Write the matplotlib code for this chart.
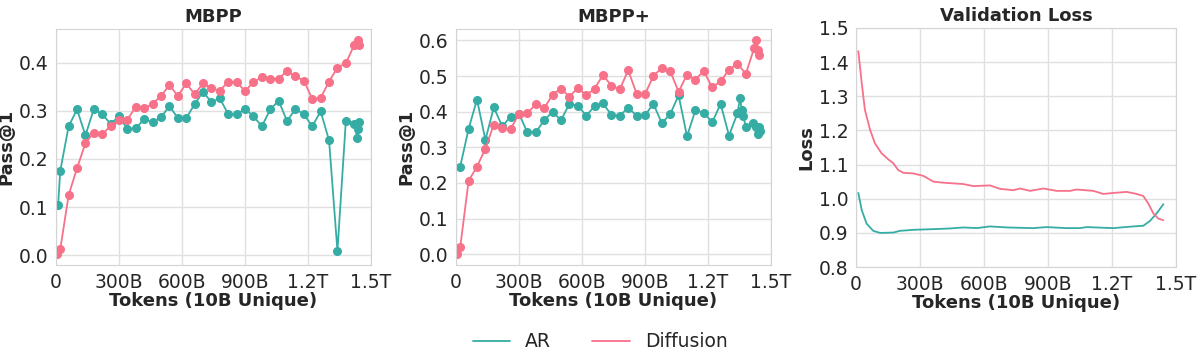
import matplotlib
matplotlib.use("Agg")
import matplotlib.pyplot as plt
import seaborn as sns
from matplotlib.ticker import FixedLocator, FixedFormatter

sns.set_style("whitegrid")
plt.rcParams['font.family'] = ['DejaVu Sans']

# ---- data (tokens in billions) -------------------------------------------
mbpp_ar_x = [10, 20, 60, 100, 140, 180, 220, 260, 300, 340, 380, 420, 460, 500,
             540, 580, 620, 660, 700, 740, 780, 820, 860, 900, 940, 980, 1020,
             1060, 1100, 1140, 1180, 1220, 1260, 1300, 1340, 1380, 1420, 1435,
             1440, 1445]
mbpp_ar_y = [0.105, 0.175, 0.268, 0.303, 0.249, 0.304, 0.293, 0.273, 0.289,
             0.262, 0.264, 0.283, 0.276, 0.287, 0.310, 0.285, 0.285, 0.314,
             0.340, 0.318, 0.326, 0.293, 0.293, 0.304, 0.289, 0.268, 0.303,
             0.321, 0.279, 0.304, 0.293, 0.268, 0.299, 0.239, 0.009, 0.279,
             0.272, 0.243, 0.262, 0.277]

mbpp_diff_x = [5, 20, 60, 100, 140, 180, 220, 260, 300, 340, 380, 420, 460, 500,
               540, 580, 620, 660, 700, 740, 780, 820, 860, 900, 940, 980, 1020,
               1060, 1100, 1140, 1180, 1220, 1260, 1300, 1340, 1380, 1420, 1440,
               1445]
mbpp_diff_y = [0.002, 0.012, 0.125, 0.181, 0.233, 0.255, 0.251, 0.269, 0.281,
               0.282, 0.309, 0.305, 0.315, 0.331, 0.354, 0.331, 0.357, 0.335,
               0.357, 0.347, 0.342, 0.361, 0.360, 0.341, 0.360, 0.370, 0.367,
               0.367, 0.383, 0.372, 0.363, 0.325, 0.327, 0.361, 0.390, 0.399,
               0.437, 0.448, 0.437]

mbppp_ar_x = [20, 60, 100, 140, 180, 220, 260, 300, 340, 380, 420, 460, 500,
              540, 580, 620, 660, 700, 740, 780, 820, 860, 900, 940, 980, 1020,
              1060, 1100, 1140, 1180, 1220, 1260, 1300, 1340, 1353, 1360, 1368,
              1380, 1412, 1430, 1437, 1445, 1448]
mbppp_ar_y = [0.246, 0.352, 0.434, 0.321, 0.412, 0.359, 0.386, 0.394, 0.342,
              0.342, 0.376, 0.400, 0.376, 0.422, 0.417, 0.389, 0.415, 0.423,
              0.391, 0.389, 0.411, 0.389, 0.390, 0.422, 0.368, 0.393, 0.446,
              0.331, 0.404, 0.397, 0.370, 0.422, 0.333, 0.395, 0.439, 0.405,
              0.389, 0.356, 0.368, 0.358, 0.337, 0.358, 0.346]

mbppp_diff_x = [5, 20, 60, 100, 140, 180, 220, 260, 300, 340, 380, 420, 460,
                500, 540, 580, 620, 660, 700, 740, 780, 820, 860, 900, 940, 980,
                1020, 1060, 1100, 1140, 1180, 1220, 1260, 1300, 1340, 1380, 1420,
                1430, 1440, 1445]
mbppp_diff_y = [0.000, 0.019, 0.206, 0.246, 0.296, 0.364, 0.353, 0.351, 0.394,
                0.396, 0.421, 0.410, 0.448, 0.465, 0.442, 0.467, 0.446, 0.465,
                0.503, 0.473, 0.463, 0.516, 0.451, 0.449, 0.500, 0.523, 0.514,
                0.456, 0.504, 0.490, 0.514, 0.468, 0.485, 0.518, 0.535, 0.506,
                0.579, 0.602, 0.574, 0.559]

loss_ar_x = [11, 27, 50, 81, 113, 175, 206, 269, 363, 441, 503, 566, 628, 706,
             831, 894, 988, 1050, 1081, 1206, 1300, 1347, 1378, 1409, 1441]
loss_ar_y = [1.017, 0.967, 0.927, 0.906, 0.900, 0.901, 0.906, 0.909, 0.911,
             0.913, 0.916, 0.914, 0.919, 0.916, 0.914, 0.917, 0.914, 0.914,
             0.917, 0.914, 0.919, 0.921, 0.935, 0.957, 0.984]

loss_diff_x = [11, 27, 42, 66, 89, 120, 152, 175, 198, 222, 269, 316, 363, 409,
               456, 503, 550, 628, 675, 738, 769, 816, 878, 941, 1003, 1034,
               1113, 1159, 1206, 1269, 1316, 1347, 1370, 1394, 1417, 1441]
loss_diff_y = [1.432, 1.339, 1.260, 1.202, 1.162, 1.133, 1.115, 1.104, 1.084,
               1.076, 1.074, 1.067, 1.050, 1.047, 1.045, 1.043, 1.037, 1.039,
               1.029, 1.025, 1.030, 1.023, 1.030, 1.023, 1.023, 1.027, 1.023,
               1.014, 1.017, 1.020, 1.014, 1.008, 0.986, 0.957, 0.942, 0.937]

x_ticks = [0, 300, 600, 900, 1200, 1500]
x_tick_labels = ["0", "300B", "600B", "900B", "1.2T", "1.5T"]

AR_COLOR = "#36ada4"
DIFF_COLOR = "#f77189"
TEXT = "#262626"

# ---- plot ----------------------------------------------------------------
fig = plt.figure(figsize=(12, 3.58), dpi=100)
ax1 = fig.add_axes([0.0467, 0.26, 0.2625, 0.659])
ax2 = fig.add_axes([0.38, 0.26, 0.2625, 0.659])
ax3 = fig.add_axes([0.7133, 0.254, 0.2667, 0.668])


def style_ax(ax, title, ylabel):
    ax.set_xlim(0, 1500)
    ax.xaxis.set_major_locator(FixedLocator(x_ticks))
    ax.xaxis.set_major_formatter(FixedFormatter(x_tick_labels))
    ax.tick_params(labelsize=13.5, pad=2, labelcolor=TEXT)
    ax.set_title(title, fontsize=13, fontweight="bold", pad=5, color=TEXT)
    ax.set_xlabel("Tokens (10B Unique)", fontsize=13, fontweight="bold",
                  labelpad=0, color=TEXT)
    ax.set_ylabel(ylabel, fontsize=13, fontweight="bold", labelpad=2,
                  color=TEXT)
    for s in ax.spines.values():
        s.set_color("#d4d4d4")
    ax.grid(color="#e0e0e0", lw=1)


mk = dict(marker="o", markersize=5.5, lw=1.3)
ax1.plot(mbpp_ar_x, mbpp_ar_y, color=AR_COLOR, **mk)
ax1.plot(mbpp_diff_x, mbpp_diff_y, color=DIFF_COLOR, **mk)
ax1.set_yticks([0.0, 0.1, 0.2, 0.3, 0.4])
style_ax(ax1, "MBPP", "Pass@1")

ax2.plot(mbppp_ar_x, mbppp_ar_y, color=AR_COLOR, **mk)
ax2.plot(mbppp_diff_x, mbppp_diff_y, color=DIFF_COLOR, **mk)
ax2.set_yticks([0.0, 0.1, 0.2, 0.3, 0.4, 0.5, 0.6])
style_ax(ax2, "MBPP+", "Pass@1")

ax3.plot(loss_ar_x, loss_ar_y, color=AR_COLOR, lw=1.3, label="AR")
ax3.plot(loss_diff_x, loss_diff_y, color=DIFF_COLOR, lw=1.3, label="Diffusion")
ax3.set_ylim(0.8, 1.5)
ax3.set_yticks([0.8, 0.9, 1.0, 1.1, 1.2, 1.3, 1.4, 1.5])
style_ax(ax3, "Validation Loss", "Loss")

handles, labels = ax3.get_legend_handles_labels()
leg = fig.legend(handles, labels, loc="center", bbox_to_anchor=(0.5, 0.045),
                 ncol=2, frameon=False, fontsize=13.5, handlelength=2,
                 columnspacing=2.2)
for t in leg.get_texts():
    t.set_color(TEXT)

plt.savefig("out.png", dpi=100)
